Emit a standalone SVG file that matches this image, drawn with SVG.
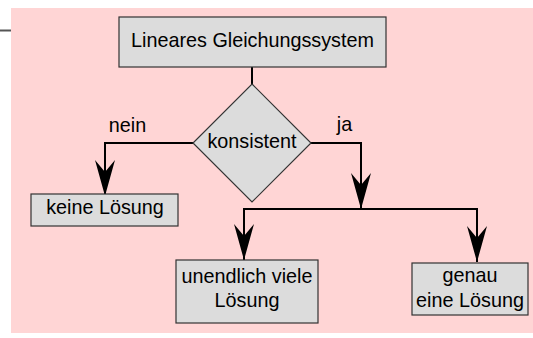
<svg xmlns="http://www.w3.org/2000/svg" width="533" height="338" viewBox="0 0 533 338">
<style>
.box{fill:#dcdcdc;stroke:#333;stroke-width:1.2}
.t{font-family:"Liberation Sans",Arial,sans-serif;font-size:19.8px;fill:#000;text-anchor:middle}
.c{fill:none;stroke:#000;stroke-width:2}
</style>
<defs>
<marker id="ah" markerUnits="userSpaceOnUse" viewBox="0 0 36 20" refX="36" refY="10" markerWidth="36" markerHeight="20" orient="auto">
<path d="M0,0 L36,10 L0,20 L12,10 Z" fill="#000"/>
</marker>
</defs>
<rect x="0" y="0" width="533" height="338" fill="#fff"/>
<rect x="11" y="8" width="522" height="325" fill="#ffd5d5"/>
<line x1="0" y1="30.5" x2="11" y2="30.5" stroke="#555" stroke-width="2"/>
<g id="connectors">
<line class="c" x1="252" y1="67" x2="252" y2="84"/>
<path class="c" d="M193,143 H105 V196" marker-end="url(#ah)"/>
<path class="c" d="M311,143 H361 V209" marker-end="url(#ah)"/>
<path class="c" d="M361,209 H244 V260" marker-end="url(#ah)"/>
<path class="c" d="M361,209 H477 V262" marker-end="url(#ah)"/>
<text class="t" x="127.5" y="132">nein</text>
<text class="t" x="344.5" y="131">ja</text>
</g>
<g id="start">
<rect class="box" x="119" y="17" width="267" height="50"/>
<text class="t" x="252.5" y="47">Lineares Gleichungssystem</text>
</g>
<g id="decision">
<polygon class="box" points="252,84 311,143 252,202 193,143"/>
<text class="t" x="252" y="148">konsistent</text>
</g>
<g id="keine">
<rect class="box" x="31" y="194" width="147" height="32"/>
<text class="t" x="105" y="214">keine Lösung</text>
</g>
<g id="unendlich">
<rect class="box" x="176" y="260" width="142" height="63"/>
<text class="t" x="247" y="283">unendlich viele</text>
<text class="t" x="247" y="307">Lösung</text>
</g>
<g id="genau">
<rect class="box" x="412" y="263" width="116" height="52"/>
<text class="t" x="470" y="282">genau</text>
<text class="t" x="470" y="307">eine Lösung</text>
</g>
</svg>
